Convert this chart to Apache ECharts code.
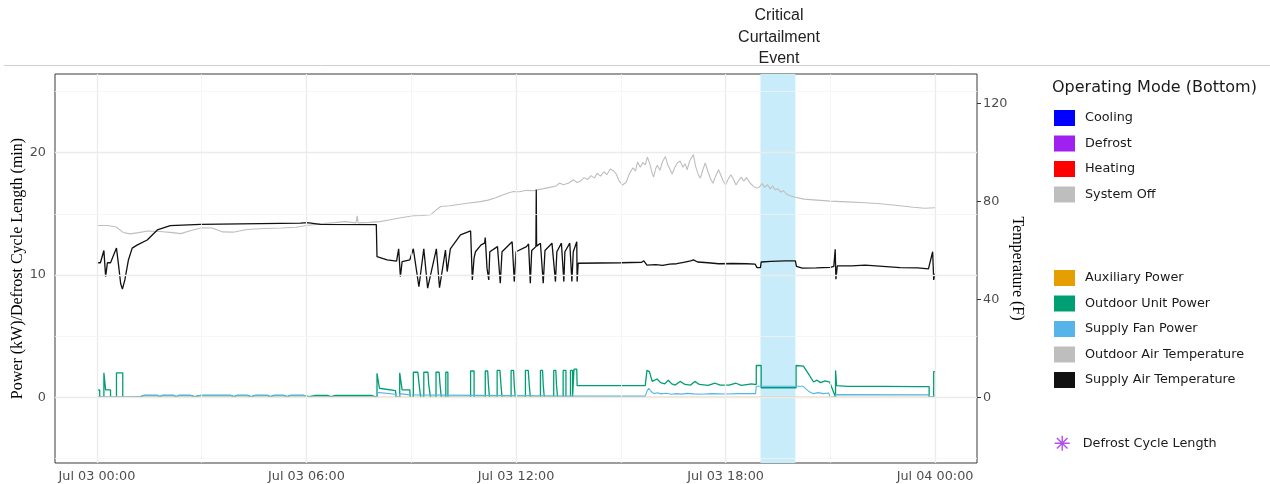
<!DOCTYPE html>
<html><head><meta charset="utf-8">
<script src="https://cdn.jsdelivr.net/npm/echarts@6/dist/echarts.min.js"></script>
<style>html,body{margin:0;padding:0;background:#fff}#c{width:1270px;height:484px}</style>
</head><body><div id="c"></div><script>
// ---- Axis ticks / labels ----
const xTickValues = [0, 6, 12, 18, 24];
const xTickLabels = ['Jul 03 00:00', 'Jul 03 06:00', 'Jul 03 12:00', 'Jul 03 18:00', 'Jul 04 00:00'];
const xMinorGrid = [3, 9, 15, 21];
const yLeftTicks = [0, 10, 20];
const yLeftMinor = [-5, 5, 15, 25];
const yRightTicks = [0, 40, 80, 120];
const eventRange = [19, 20];
const eventLines = ['Critical', 'Curtailment', 'Event'];

// ---- Outdoor Air Temperature (F) ----
const oatHours = [0.00,0.30,0.55,0.75,0.95,1.20,1.45,1.80,2.10,2.40,2.70,3.00,3.30,3.60,3.90,4.30,4.80,5.30,5.70,6.00,6.40,6.80,7.10,7.42,7.45,7.48,7.80,8.10,8.40,8.70,9.07,9.30,9.55,9.70,9.84,10.10,10.30,10.60,10.98,11.20,11.40,11.60,11.80,11.93,12.10,12.30,12.50,12.60,12.80,13.00,13.15,13.25,13.35,13.50,13.65,13.75,13.84,13.95,14.05,14.15,14.25,14.32,14.42,14.52,14.60,14.70,14.80,14.88,14.95,15.05,15.15,15.25,15.35,15.42,15.48,15.56,15.63,15.70,15.76,15.83,15.90,15.94,16.00,16.05,16.12,16.20,16.28,16.34,16.40,16.47,16.55,16.62,16.70,16.78,16.84,16.90,16.97,17.03,17.08,17.14,17.22,17.28,17.35,17.42,17.50,17.58,17.64,17.72,17.80,17.86,17.93,18.00,18.07,18.15,18.23,18.30,18.37,18.45,18.52,18.60,18.70,18.80,18.90,18.97,19.05,19.12,19.20,19.28,19.35,19.42,19.50,19.58,19.66,19.75,19.85,20.00,20.25,20.52,21.00,21.48,22.00,22.43,23.00,23.38,23.70,24.00];
const oatTemp = [70.2,70.2,69.6,67.4,66.8,67.3,68.0,67.8,67.4,66.9,68.2,69.3,69.2,67.6,67.5,68.6,69.0,69.2,69.5,70.2,70.9,71.4,71.8,71.3,74.2,71.3,71.5,71.8,72.6,73.4,74.2,74.3,74.6,76.4,78.0,78.3,78.7,79.3,80.0,80.6,81.5,82.6,83.6,84.1,84.0,84.6,84.4,84.8,85.3,85.9,86.4,87.6,86.9,87.5,88.9,87.8,88.3,89.8,89.0,90.6,89.6,91.6,90.4,92.2,91.0,93.3,92.5,91.0,88.5,86.8,87.8,91.5,93.8,92.5,96.2,94.0,96.0,95.0,98.2,95.5,91.5,90.0,93.5,94.8,92.8,96.5,98.4,95.2,93.5,91.3,94.0,95.8,96.6,94.0,95.5,93.0,96.5,98.0,99.2,94.5,91.0,89.6,93.0,95.8,92.0,89.0,87.5,90.5,93.0,91.0,88.5,86.8,89.0,91.0,89.0,86.8,88.5,90.0,88.4,89.8,87.6,86.2,85.5,86.0,87.4,85.8,86.9,85.2,86.4,84.8,85.2,83.9,84.4,83.0,82.4,81.8,81.0,80.7,80.2,79.9,79.5,79.1,78.3,77.7,77.3,77.5];

// ---- Supply Air Temperature (F) ----
const satHours = [0.00,0.10,0.20,0.25,0.30,0.39,0.56,0.62,0.68,0.73,0.80,0.90,1.01,1.16,1.44,1.73,2.10,2.97,5.83,6.02,6.40,8.00,8.02,8.31,8.58,8.64,8.69,8.74,8.96,9.06,9.22,9.36,9.47,9.72,9.81,9.98,10.03,10.12,10.41,10.70,10.75,10.80,10.84,11.00,11.10,11.12,11.17,11.22,11.25,11.47,11.55,11.60,11.89,11.95,12.00,12.30,12.36,12.41,12.45,12.57,12.58,12.59,12.70,12.78,12.83,13.03,13.13,13.17,13.30,13.37,13.40,13.54,13.60,13.64,13.74,13.75,13.78,15.00,15.60,15.66,15.75,15.80,16.00,16.20,16.40,16.60,16.80,17.00,17.08,17.20,17.50,17.80,18.20,18.60,18.85,18.90,19.00,19.02,19.30,19.70,20.00,20.03,20.20,20.60,21.00,21.10,21.14,21.16,21.20,21.60,22.00,22.30,23.00,23.50,23.81,23.93,23.96,24.00];
const satTemp = [55.0,55.0,60.0,49.3,55.0,55.0,61.0,54.0,46.5,44.2,48.0,56.0,61.0,62.3,64.3,68.4,70.2,70.7,71.2,71.4,70.7,70.6,57.5,56.2,55.7,60.7,49.3,55.5,56.2,60.7,45.2,60.7,44.6,60.7,44.8,60.2,51.4,60.7,66.4,68.0,48.0,57.0,59.5,62.3,63.0,65.3,52.8,48.0,59.5,61.6,46.6,59.5,63.6,47.3,59.5,61.6,62.7,46.6,60.0,61.6,84.8,61.8,63.0,46.6,60.0,63.0,47.3,59.5,63.0,47.3,59.5,63.0,47.3,59.5,63.6,47.3,54.8,55.0,55.2,55.8,54.0,53.7,54.2,53.9,54.4,54.6,55.2,55.8,56.2,55.3,55.0,54.6,54.7,54.6,54.4,53.0,53.0,55.3,55.6,55.8,55.8,53.5,52.8,52.9,53.1,53.5,60.5,48.3,53.7,53.7,54.0,53.7,53.0,52.9,52.5,59.5,48.0,50.5];

// ---- Outdoor Unit Power (kW) ----
const oduHours = [0.00,0.08,0.08,0.20,0.20,0.25,0.25,0.39,0.39,0.56,0.56,0.74,0.74,0.96,0.96,1.25,1.35,1.73,1.80,1.87,2.20,2.27,2.35,2.68,2.80,2.97,3.35,3.40,3.45,3.83,3.92,4.02,4.30,4.42,4.54,4.88,4.97,5.07,5.35,5.45,5.54,5.92,6.09,6.26,6.59,6.71,6.83,7.36,7.40,7.45,7.88,7.95,8.02,8.02,8.07,8.09,8.55,8.57,8.67,8.67,8.72,8.74,8.96,8.97,
  9.06,9.06,9.19,9.22,9.27,9.27, 9.36,9.36,9.48,9.50,9.55,9.55, 9.71,9.71,9.80,9.82,9.86,9.86, 9.99,9.99,10.05,10.05, 10.70,10.70,10.80,10.80,
  11.12,11.12,11.19,11.21,11.24,11.24, 11.46,11.46,11.54,11.57,11.60,11.60, 11.86,11.86,11.93,11.95,11.98,11.98, 12.27,12.27,12.35,12.38,12.41,12.41,
  12.70,12.70,12.76,12.78,12.81,12.81, 13.08,13.08,13.14,13.16,13.19,13.19, 13.35,13.35,13.43,13.43, 13.56,13.56,13.62,13.62, 13.66,13.66,13.74,13.75,
  15.70,15.75,15.82,15.90,15.94,16.04,16.14,16.26,16.36,16.46,16.56,16.70,16.84,17.00,17.12,17.25,17.50,17.70,17.85,18.10,18.30,18.45,18.75,18.82,18.88,18.88,19.02,19.02,20.02,20.02,20.23,20.38,20.52,20.62,20.72,20.85,20.98,21.00,21.15,21.15,21.18,21.50,22.50,23.50,23.83,23.83,23.96,23.96,24.00];
const oduKW = [0.6,0.6,0,0,2.0,2.0,0.6,0.6,0,0,2.0,2.0,0,0,0.05,0.05,0.15,0.15,0.05,0.15,0.15,0.05,0.15,0.15,0.05,0.15,0.15,0.05,0.15,0.15,0.05,0.15,0.15,0.05,0.15,0.15,0.05,0.15,0.15,0.05,0.15,0.15,0.05,0.15,0.15,0.05,0.15,0.15,0.05,0.15,0.15,0.05,0.05,1.96,1.96,0.74,0.54,0,0,2.0,2.0,0.6,0.6,0,
  0,2.05,2.05,1.2,1.2,0, 0,2.05,2.05,1.1,1.1,0, 0,2.05,2.05,1.2,1.2,0, 0,2.05,2.05,0, 0,2.15,2.15,0,
  0,2.15,2.15,1.1,1.1,0, 0,2.2,2.2,1.0,1.0,0, 0,2.2,2.2,1.0,1.0,0, 0,2.2,2.2,1.0,1.0,0,
  0,2.2,2.2,1.0,1.0,0, 0,2.2,2.2,1.0,1.0,0, 0,2.2,2.2,0, 0,2.2,2.2,0, 0,2.3,2.3,0.95,
  0.95,2.2,2.1,1.3,1.14,1.5,1.2,1.1,1.4,1.1,1.0,1.3,1.05,1.0,1.3,1.05,0.98,1.15,1.0,1.0,1.15,0.98,1.1,1.05,1.05,2.6,2.6,0.78,0.78,2.6,2.55,1.9,1.25,1.4,1.2,1.35,1.25,1.25,0,2.2,0.95,0.9,0.9,0.87,0.87,0,0,2.1,2.1];

// ---- Supply Fan Power (kW) ----
const fanHours = [0.00,0.96,1.25,1.35,1.73,1.80,1.87,2.20,2.27,2.35,2.68,2.80,2.97,3.35,3.40,3.45,3.83,3.92,4.02,4.30,4.42,4.54,4.88,4.97,5.07,5.35,5.45,5.54,5.92,6.09,8.02,8.02,8.55,8.57,8.67,8.67,8.96,8.97,13.75,15.70,15.75,15.80,15.88,15.95,16.05,16.15,16.30,16.45,16.60,16.75,16.90,17.10,17.30,17.60,18.00,18.40,18.86,18.88,20.22,20.40,20.52,20.65,20.80,20.95,21.00,21.00,21.15,21.15,23.83,23.83,24.00];
const fanKW = [0.05,0.05,0.05,0.16,0.16,0.05,0.16,0.16,0.05,0.16,0.16,0.05,0.16,0.16,0.05,0.16,0.16,0.05,0.16,0.16,0.05,0.16,0.16,0.05,0.16,0.16,0.05,0.16,0.16,0.03,0.03,0.4,0.25,0.03,0.03,0.3,0.2,0.06,0.1,0.1,0.5,0.74,0.45,0.3,0.38,0.28,0.33,0.25,0.3,0.26,0.32,0.28,0.25,0.3,0.27,0.3,0.3,0.9,0.9,0.45,0.3,0.38,0.3,0.35,0.35,0.02,0.02,0.22,0.2,0.02,0.1];

// ---- Auxiliary Power (kW) ----
const auxHours = [0, 24];
const auxKW = [0, 0];

function zip(a, b) { return a.map((v, i) => [v, b[i]]); }

const chart = echarts.init(document.getElementById('c'), null, { renderer: 'canvas' });
const TICK = '#4d4d4d';
const FONT = 'DejaVu Sans';
const MAJOR = '#ebebeb', MINOR = '#f4f4f4';

const gridLines = []
  .concat(xTickValues.map(v => ({ xAxis: v, lineStyle: { color: MAJOR, width: 1.3, type: 'solid' } })))
  .concat(xMinorGrid.map(v => ({ xAxis: v, lineStyle: { color: MINOR, width: 0.8, type: 'solid' } })))
  .concat(yLeftTicks.map(v => ({ yAxis: v, lineStyle: { color: MAJOR, width: 1.3, type: 'solid' } })))
  .concat(yLeftMinor.map(v => ({ yAxis: v, lineStyle: { color: MINOR, width: 0.8, type: 'solid' } })));

const asterisk = 'path://M7.5,0L7.5,15M0,7.5L15,7.5M2.2,2.2L12.8,12.8M12.8,2.2L2.2,12.8';

const legendBase = {
  orient: 'vertical', left: 1054, itemWidth: 21, itemHeight: 16, itemGap: 9.5, icon: 'rect',
  padding: 0, selectedMode: false,
  textStyle: { fontSize: 12.8, color: '#1a1a1a', fontFamily: FONT, padding: [0, 0, 0, 5] }
};

const option = {
  animation: false,
  backgroundColor: '#fff',
  grid: { left: 55, top: 74, width: 922, height: 389, containLabel: false, outerBoundsMode: 'none', show: true, borderColor: '#3a3a3a', borderWidth: 1, backgroundColor: 'transparent' },
  xAxis: {
    type: 'value', min: -1.2, max: 25.2,
    axisLine: { show: false }, splitLine: { show: false },
    axisTick: { show: true, customValues: xTickValues, length: 4, lineStyle: { color: '#333' } },
    axisLabel: { customValues: xTickValues, formatter: v => xTickLabels[xTickValues.indexOf(v)], color: TICK, fontSize: 12.8, fontFamily: FONT, margin: 7 }
  },
  yAxis: [{
    type: 'value', min: -5.37, max: 26.43, position: 'left',
    axisLine: { show: false }, splitLine: { show: false },
    axisTick: { show: true, customValues: yLeftTicks, length: 4, lineStyle: { color: '#333' } },
    axisLabel: { customValues: yLeftTicks, color: TICK, fontSize: 12.8, fontFamily: FONT, margin: 9 },
    name: 'Power (kW)/Defrost Cycle Length (min)', nameLocation: 'middle', nameGap: 29, nameMoveOverlap: false,
    nameTextStyle: { fontFamily: 'Liberation Serif', fontSize: 16, color: '#000' }
  }, {
    type: 'value', min: -26.85, max: 132.15, position: 'right',
    axisLine: { show: false }, splitLine: { show: false },
    axisTick: { show: true, customValues: yRightTicks, length: 4, lineStyle: { color: '#333' } },
    axisLabel: { customValues: yRightTicks, color: TICK, fontSize: 12.8, fontFamily: FONT, margin: 6 },
    name: 'Temperature (F)', nameLocation: 'middle', nameGap: 32, nameRotate: -90, nameMoveOverlap: false,
    nameTextStyle: { fontFamily: 'Liberation Serif', fontSize: 16, color: '#000' }
  }],
  legend: [
    Object.assign({}, legendBase, { top: 110, data: ['Cooling', 'Defrost', 'Heating', 'System Off'] }),
    Object.assign({}, legendBase, { top: 270, data: ['Auxiliary Power', 'Outdoor Unit Power', 'Supply Fan Power', 'Outdoor Air Temperature', 'Supply Air Temperature'] }),
    Object.assign({}, legendBase, { top: 435, itemHeight: 15, data: [{ name: 'Defrost Cycle Length', icon: asterisk, itemStyle: { color: '#a020f0', borderColor: '#a020f0', borderWidth: 1.4 } }] })
  ],
  title: {
    text: 'Operating Mode (Bottom)', left: 1052, top: 80, padding: 0,
    textStyle: { fontSize: 16, fontWeight: 'normal', color: '#1a1a1a', fontFamily: FONT }
  },
  graphic: [
    { type: 'line', shape: { x1: 4, y1: 65.5, x2: 1270, y2: 65.5 }, style: { stroke: '#d0d0d0', lineWidth: 1 }, silent: true },
    ...eventLines.map((t, i) => ({
      type: 'text', x: 779, y: 16 + i * 21.5, silent: true,
      style: { text: t, fill: '#222', font: '16px "Liberation Sans"', textAlign: 'center', textVerticalAlign: 'middle' }
    }))
  ],
  series: [
    { name: '_grid', type: 'line', data: [], silent: true, z: 1, symbol: 'none',
      markLine: { silent: true, symbol: ['none', 'none'], label: { show: false }, emphasis: { disabled: true }, data: gridLines },
      markArea: { silent: true, itemStyle: { color: '#c8ecf9' }, emphasis: { disabled: true }, data: [[{ xAxis: eventRange[0] }, { xAxis: eventRange[1] }]] }
    },
    { name: 'Cooling', type: 'line', data: [], color: '#0000ff' },
    { name: 'Defrost', type: 'line', data: [], color: '#a020f0' },
    { name: 'Heating', type: 'line', data: [], color: '#ff0000' },
    { name: 'System Off', type: 'line', data: [], color: '#bebebe' },
    { name: 'Outdoor Unit Power', type: 'line', z: 3, data: zip(oduHours, oduKW), color: '#009E73', showSymbol: false, symbol: 'none', lineStyle: { width: 1.3 } },
    { name: 'Supply Fan Power', type: 'line', z: 3, data: zip(fanHours, fanKW), color: '#56B4E9', showSymbol: false, symbol: 'none', lineStyle: { width: 1.1 } },
    { name: 'Auxiliary Power', type: 'line', z: 3, data: zip(auxHours, auxKW), color: '#E69F00', showSymbol: false, symbol: 'none', lineStyle: { width: 1.2 } },
    { name: 'Outdoor Air Temperature', type: 'line', z: 3, yAxisIndex: 1, data: zip(oatHours, oatTemp), color: '#bebebe', showSymbol: false, symbol: 'none', lineStyle: { width: 1.1 } },
    { name: 'Supply Air Temperature', type: 'line', z: 3, yAxisIndex: 1, data: zip(satHours, satTemp), color: '#111', showSymbol: false, symbol: 'none', lineStyle: { width: 1.3 } },
    { name: 'Defrost Cycle Length', type: 'scatter', data: [], symbol: asterisk, color: '#a020f0', itemStyle: { borderColor: '#a020f0', borderWidth: 1.4 } }
  ]
};
chart.setOption(option);
</script></body></html>
